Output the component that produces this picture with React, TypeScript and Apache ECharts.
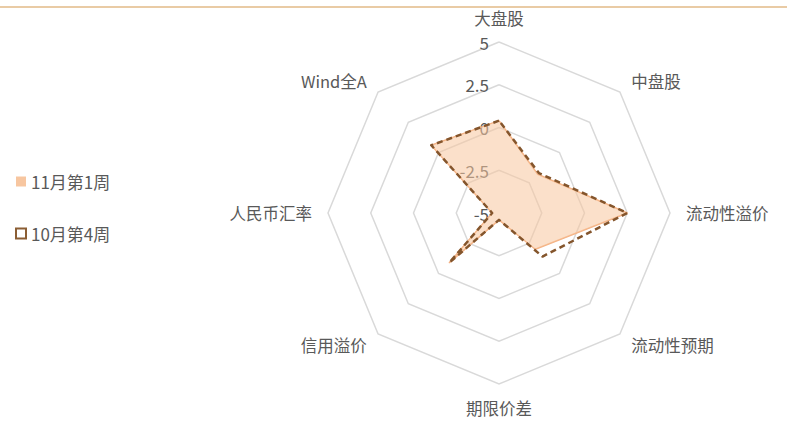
import React, { useEffect, useRef } from "react";
import * as echarts from "echarts";

// clockwise from the top
const indicators = ["大盘股", "中盘股", "流动性溢价", "流动性预期", "期限价差", "信用溢价", "人民币汇率", "Wind全A"];
const seriesNames = ["11月第1周", "10月第4周"];
const week1 = [0.4, -1.8, 2.5, -2.0, -4.6, -0.9, -4.6, 0.6];
const week2 = [0.4, -1.7, 2.5, -1.4, -4.6, -0.9, -4.6, 0.6];
const axisMin = -5;
const axisMax = 5;

// ECharts lays indicators counter-clockwise; reorder so they run clockwise
const order = indicators.map((_, i) => (i === 0 ? 0 : indicators.length - i));
const reorder = <T,>(arr: T[]) => order.map((k) => arr[k]);

export default function App() {
  const ref = useRef<HTMLDivElement>(null);
  useEffect(() => {
    if (!ref.current) return;
    const chart = echarts.init(ref.current, undefined, { renderer: "svg" });
    const font = "'Noto Sans CJK SC', 'Noto Sans', sans-serif";
    chart.setOption({
      animation: false,
      textStyle: { fontFamily: font },
      graphic: [
        { type: "line", shape: { x1: 0, y1: 7, x2: 787, y2: 7 }, style: { stroke: "#E9CBA5", lineWidth: 2 } },
      ],
      legend: {
        orient: "vertical",
        left: 10,
        top: 168,
        itemGap: 35,
        itemWidth: 10,
        itemHeight: 10,
        textStyle: { color: "#595959", fontSize: 17, fontFamily: font },
        data: [
          { name: seriesNames[0], icon: "rect" },
          { name: seriesNames[1], icon: "rect" },
        ],
      },
      radar: {
        center: [499, 213],
        radius: 171,
        startAngle: 90,
        shape: "polygon",
        splitNumber: 4,
        axisName: { color: "#595959", fontSize: 16.5, lineHeight: 16, fontFamily: font },
        nameGap: 16,
        splitLine: { lineStyle: { color: "#D9D9D9", width: 1.5 } },
        splitArea: { show: false },
        axisLine: { show: false },
        axisTick: { show: false },
        axisLabel: { show: false },
        indicator: reorder(indicators).map((n, i) => ({
          name: n,
          min: axisMin,
          max: axisMax,
          ...(i === 0
            ? { axisLabel: { show: true, color: "#595959", fontSize: 17, lineHeight: 16, fontFamily: font, margin: 10 } }
            : {}),
        })),
      },
      series: [
        {
          type: "radar",
          symbol: "none",
          data: [
            {
              name: seriesNames[0],
              value: reorder(week1),
              itemStyle: { color: "#F7C6A0" },
              lineStyle: { color: "#F4B183", width: 1.5 },
              areaStyle: { color: "rgba(248,198,158,0.78)" },
            },
            {
              name: seriesNames[1],
              value: reorder(week2),
              itemStyle: { color: "#fff", borderColor: "#8B5E34", borderType: "dashed", borderWidth: 1.5 },
              lineStyle: { color: "#84552C", width: 2.5, type: [6, 4] },
            },
          ],
        },
      ],
    });
    return () => chart.dispose();
  }, []);
  return <div ref={ref} style={{ position: "absolute", left: 0, top: 0, width: 787, height: 421 }} />;
}
